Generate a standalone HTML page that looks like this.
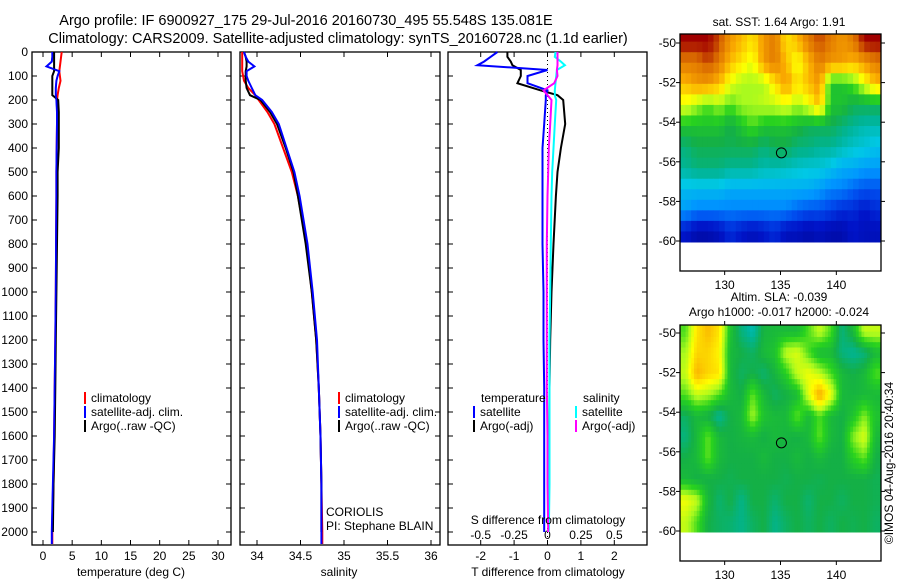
<!DOCTYPE html>
<html><head><meta charset="utf-8">
<style>
body{margin:0;background:#fff;}
svg{display:block;font-family:"Liberation Sans",sans-serif;}
text{fill:#000;}
</style></head>
<body>
<svg id="chart" width="900" height="580" viewBox="0 0 900 580" xmlns="http://www.w3.org/2000/svg">
<text x="306" y="25" font-size="14.5" text-anchor="middle">Argo profile: IF 6900927_175 29-Jul-2016 20160730_495 55.548S 135.081E</text>
<text x="338" y="43" font-size="14.5" text-anchor="middle">Climatology: CARS2009. Satellite-adjusted climatology: synTS_20160728.nc (1.1d earlier)</text>
<g id="g"></g>
</svg>
<script>
// ---- profile data ----
const depths = [0,20,40,60,80,100,120,150,180,200,250,300,400,500,600,800,1000,1200,1400,1600,1800,2000,2050];
const tempClim = [3.2,3.1,3.0,2.9,2.8,2.9,3.0,2.7,2.5,2.4,2.4,2.4,2.35,2.3,2.3,2.25,2.2,2.1,2.0,1.9,1.8,1.6,1.6];
const tempSat  = [1.6,1.6,1.5,0.6,2.8,2.5,2.3,2.2,2.2,2.3,2.4,2.4,2.35,2.3,2.3,2.25,2.2,2.1,2.0,1.9,1.7,1.5,1.5];
const tempArgo = [1.9,1.9,1.9,1.9,1.9,1.6,1.6,1.6,1.6,2.6,2.7,2.7,2.7,2.5,2.5,2.4,2.3,2.2,2.1,2.0,1.8,1.7,1.7];
const salClim = [33.83,33.83,33.83,33.83,33.83,33.84,33.85,33.9,33.98,34.02,34.12,34.2,34.3,34.4,34.47,34.57,34.63,34.68,34.71,34.73,34.74,34.75,34.75];
const salSat  = [33.85,33.87,33.9,33.97,33.88,33.88,33.9,33.94,33.98,34.06,34.17,34.25,34.34,34.43,34.49,34.58,34.64,34.69,34.71,34.73,34.74,34.74,34.74];
const salArgo = [33.85,33.87,33.88,33.88,33.87,33.87,33.87,33.88,33.92,34.04,34.15,34.23,34.33,34.42,34.47,34.56,34.63,34.68,34.71,34.73,34.74,34.74,34.74];
const diffDepths = [0,20,40,55,75,100,130,160,180,200,300,400,500,600,800,1000,1200,1400,1600,1800,2000];
const dTsat  = [-1.5,-1.7,-1.9,-2.1,0,-0.6,-0.6,0,-0.05,-0.05,-0.1,-0.15,-0.15,-0.15,-0.15,-0.12,-0.12,-0.1,-0.1,-0.1,-0.1];
const dTargo = [-1.2,-1.2,-1.1,-1.05,-0.8,-0.8,-0.9,-0.2,0.3,0.47,0.53,0.4,0.3,0.25,0.18,0.12,0.08,0.06,0.05,0.04,0.03];
const dSsat  = [0.06,0.055,0.1,0.13,0.07,0.065,0.06,0.055,0.055,0.065,0.055,0.045,0.035,0.03,0.025,0.02,0.015,0.015,0.015,0.015,0.01];
const dSargo = [0.075,0.075,0.075,0.075,0.07,0.075,0.05,-0.03,0,0.03,0.02,0.01,0.005,0,-0.005,-0.005,-0.005,-0.005,0,0,0.005];
const depthTicks = [0,100,200,300,400,500,600,700,800,900,1000,1100,1200,1300,1400,1500,1600,1700,1800,1900,2000];
const tempTicks = [0,5,10,15,20,25,30];
const salTicks = [34,34.5,35,35.5,36];
const tdTicks = [-2,-1,0,1,2];
const sdTickLabels = ["-0.5","-0.25","0","0.25","0.5"];
const sdTicks = [-0.5,-0.25,0,0.25,0.5];
// ---- map data (colour index 0..1), rows lat -50..-60, cols lon 126..144 ----
const sstGrid = [
[0.95,0.95,0.95,0.9,0.8,0.75,0.7,0.8,0.85,0.7,0.75,0.85,0.9,0.85,0.8,0.85,0.95,0.95],
[0.85,0.85,0.9,0.85,0.75,0.7,0.65,0.8,0.85,0.75,0.65,0.75,0.85,0.8,0.8,0.75,0.8,0.85],
[0.75,0.8,0.8,0.75,0.65,0.6,0.6,0.6,0.7,0.8,0.7,0.75,0.8,0.5,0.5,0.55,0.65,0.75],
[0.65,0.6,0.55,0.6,0.55,0.6,0.6,0.62,0.62,0.65,0.6,0.65,0.75,0.5,0.5,0.45,0.45,0.45],
[0.5,0.5,0.5,0.5,0.45,0.5,0.55,0.5,0.5,0.5,0.48,0.45,0.45,0.45,0.42,0.4,0.38,0.38],
[0.42,0.45,0.45,0.45,0.45,0.45,0.45,0.42,0.45,0.45,0.42,0.42,0.4,0.4,0.38,0.36,0.35,0.33],
[0.4,0.42,0.42,0.42,0.4,0.4,0.4,0.38,0.38,0.37,0.36,0.35,0.35,0.33,0.3,0.3,0.28,0.28],
[0.32,0.32,0.32,0.32,0.3,0.3,0.3,0.3,0.3,0.3,0.3,0.3,0.28,0.25,0.25,0.22,0.2,0.2],
[0.28,0.25,0.25,0.25,0.25,0.25,0.25,0.25,0.25,0.25,0.22,0.2,0.2,0.18,0.15,0.15,0.12,0.15],
[0.12,0.08,0.08,0.1,0.15,0.12,0.1,0.12,0.15,0.1,0.1,0.08,0.1,0.08,0.08,0.12,0.1,0.1]];
const slaGrid = [
[0.55,0.7,0.75,0.7,0.5,0.42,0.38,0.47,0.48,0.48,0.48,0.55,0.62,0.55,0.42,0.48,0.62,0.62],
[0.6,0.72,0.72,0.68,0.48,0.46,0.44,0.48,0.5,0.62,0.64,0.55,0.48,0.48,0.42,0.4,0.42,0.48],
[0.62,0.76,0.72,0.7,0.48,0.44,0.46,0.43,0.47,0.52,0.62,0.66,0.62,0.55,0.48,0.46,0.48,0.55],
[0.55,0.62,0.6,0.55,0.48,0.46,0.56,0.48,0.44,0.46,0.48,0.64,0.78,0.66,0.48,0.47,0.48,0.48],
[0.44,0.48,0.46,0.4,0.46,0.48,0.6,0.5,0.48,0.48,0.56,0.48,0.55,0.48,0.46,0.5,0.58,0.5],
[0.42,0.48,0.56,0.48,0.46,0.47,0.48,0.46,0.48,0.47,0.46,0.48,0.56,0.48,0.46,0.58,0.64,0.48],
[0.46,0.48,0.56,0.48,0.46,0.46,0.46,0.48,0.46,0.46,0.48,0.46,0.48,0.46,0.46,0.52,0.56,0.46],
[0.48,0.46,0.46,0.46,0.45,0.46,0.46,0.46,0.46,0.45,0.46,0.46,0.45,0.46,0.46,0.46,0.46,0.45],
[0.66,0.62,0.48,0.43,0.46,0.41,0.46,0.46,0.43,0.46,0.46,0.43,0.46,0.46,0.44,0.46,0.46,0.45],
[0.62,0.55,0.46,0.44,0.43,0.41,0.44,0.46,0.41,0.44,0.46,0.44,0.46,0.44,0.46,0.45,0.46,0.44]];
const latTicks = [-50,-52,-54,-56,-58,-60];
const lonTicks = [130,135,140];
const argoLon = 135.081, argoLat = -55.548;

const NS="http://www.w3.org/2000/svg";
const G=document.getElementById('g');
function mk(tag,attrs,parent){const e=document.createElementNS(NS,tag);for(const k in attrs)e.setAttribute(k,attrs[k]);(parent||G).appendChild(e);return e;}
function txt(s,x,y,anchor,size,parent){const e=mk('text',{x:x,y:y,'text-anchor':anchor||'start','font-size':size||12},parent);e.textContent=s;return e;}

const PT=52, PB=545;
const yD = d => 52 + d*0.24;
const xT = t => 43 + t*(218-43)/30;
const xS = s => 257 + (s-34)*87;
const xDT = v => 547.5 + v*33.4;
const xDS = v => 547.5 + v*133.6;

function panel(name,x0,x1,showDepthLabels){
  const g=mk('g',{});
  
  
  mk('rect',{x:x0,y:PT,width:x1-x0,height:PB-PT,fill:'none',stroke:'#000','stroke-width':1.3},g);
  depthTicks.forEach(d=>{
    const y=yD(d);
    mk('line',{x1:x0,x2:x0+5,y1:y,y2:y,stroke:'#000'},g);
    mk('line',{x1:x1-5,x2:x1,y1:y,y2:y,stroke:'#000'},g);
    if(showDepthLabels){const t=txt(String(d),28,y+4,'end',12,g);}
  });
  return g;
}
function xticks(g,ticks,fx,labels){
  ticks.forEach((v,i)=>{const x=fx(v);
    mk('line',{x1:x,x2:x,y1:PT,y2:PT+5,stroke:'#000'},g);
    mk('line',{x1:x,x2:x,y1:PB-5,y2:PB,stroke:'#000'},g);
    const t=txt(labels?labels[i]:String(v),x,560,'middle',12,g);
    
    
  });
}
function line(g,xs,ds,fx,color,name,w){
  const pts=xs.map((v,i)=>fx(v).toFixed(1)+','+yD(ds[i]).toFixed(1)).join(' ');
  const p=mk('polyline',{points:pts,fill:'none',stroke:color,'stroke-width':w||2,'stroke-linejoin':'miter'},g);
  
  
}
function legend(g,x,y,color,label,name){
  mk('rect',{x:x,y:y-10,width:2,height:12,fill:color},g);
  const t=txt(label,x+7,y,'start',12,g);
  
  
}

// Panel 1 temperature
const p1=panel('temperature-panel',32,231,true);
xticks(p1,tempTicks,xT);
line(p1,tempClim,depths,xT,'#f00','temp-climatology-line');
line(p1,tempSat,depths,xT,'#00f','temp-satellite-line');
line(p1,tempArgo.slice(0,22),depths.slice(0,22),xT,'#000','temp-argo-line');
line(p1,tempSat,depths,xT,'#00f','temp-satellite-line-top',1.5);
legend(p1,84,402,'#f00','climatology','legend-climatology');
legend(p1,84,416,'#00f','satellite-adj. clim.','legend-satellite');
legend(p1,84,430,'#000','Argo(..raw -QC)','legend-argo');
{const t=txt('temperature (deg C)',131,576,'middle',12,p1);}

// Panel 2 salinity
const p2=panel('salinity-panel',240,440,false);
xticks(p2,salTicks,xS);
line(p2,salClim,depths,xS,'#f00','sal-climatology-line');
line(p2,salArgo.slice(0,22),depths.slice(0,22),xS,'#000','sal-argo-line');
line(p2,salSat,depths,xS,'#00f','sal-satellite-line');
legend(p2,338,402,'#f00','climatology','legend-climatology');
legend(p2,338,416,'#00f','satellite-adj. clim.','legend-satellite');
legend(p2,338,430,'#000','Argo(..raw -QC)','legend-argo');
{const t=txt('CORIOLIS',326,516,'start',12,p2);}
{const t=txt('PI: Stephane BLAIN',326,530,'start',12,p2);}
{const t=txt('salinity',339,576,'middle',12,p2);}

// Panel 3 differences
const p3=panel('difference-panel',448,647,false);
xticks(p3,tdTicks,xDT);
sdTicks.forEach((v,i)=>{const t=txt(sdTickLabels[i],xDS(v),539,'middle',12,p3);});
mk('line',{x1:xDT(0),x2:xDT(0),y1:PT,y2:PB,stroke:'#000','stroke-dasharray':'1,3'},p3);
line(p3,dTargo,diffDepths,xDT,'#000','tdiff-argo-line');
line(p3,dTsat,diffDepths,xDT,'#00f','tdiff-satellite-line');
line(p3,dSsat,diffDepths,xDS,'#0ff','sdiff-satellite-line');
line(p3,dSargo,diffDepths,xDS,'#f0f','sdiff-argo-line');
{const t=txt('temperature',481,402,'start',12,p3);}
{const t=txt('salinity',583,402,'start',12,p3);}
legend(p3,473,416,'#00f','satellite','legend-t-satellite');
legend(p3,473,430,'#000','Argo(-adj)','legend-t-argo');
legend(p3,575,416,'#0ff','satellite','legend-s-satellite');
legend(p3,575,430,'#f0f','Argo(-adj)','legend-s-argo');
{const t=txt('S difference from climatology',548,524,'middle',12,p3);}
{const t=txt('T difference from climatology',548,576,'middle',12,p3);}

// ---- maps ----
const STOPS=[[0,[0,0,120]],[0.12,[0,20,200]],[0.2,[0,80,240]],[0.27,[0,150,255]],[0.34,[0,200,230]],[0.4,[0,180,150]],[0.46,[20,176,70]],[0.53,[40,210,30]],[0.6,[170,250,30]],[0.67,[255,255,0]],[0.77,[250,170,0]],[0.87,[220,110,0]],[0.95,[160,0,0]],[1,[140,0,0]]];
function cmap(v){
  v=Math.max(0,Math.min(1,v));
  for(let i=1;i<STOPS.length;i++){
    if(v<=STOPS[i][0]){const a=STOPS[i-1],b=STOPS[i];const f=(v-a[0])/(b[0]-a[0]);
      return 'rgb('+a[1].map((c,k)=>Math.round(c+(b[1][k]-c)*f)).join(',')+')';}
  }
  return 'rgb(140,0,0)';
}
function sample(grid,fr,fc){
  const nr=grid.length,nc=grid[0].length;
  fr=Math.max(0,Math.min(nr-1,fr));fc=Math.max(0,Math.min(nc-1,fc));
  const r0=Math.floor(fr),c0=Math.floor(fc),r1=Math.min(nr-1,r0+1),c1=Math.min(nc-1,c0+1);
  const a=fr-r0,b=fc-c0;
  return grid[r0][c0]*(1-a)*(1-b)+grid[r0][c1]*(1-a)*b+grid[r1][c0]*a*(1-b)+grid[r1][c1]*a*b;
}
function map(name,grid,x0,x1,top,bottom,lat50y,lat60y,titles,sub){
  const g=mk('g',{});
  
  
  const lonX = lon => x0 + (lon-126)*(x1-x0)/18;
  const latY = lat => lat50y + (-50-lat)*(lat60y-lat50y)/10;
  const nr=grid.length*sub, nc=grid[0].length*sub;
  const latTop=-49.4, latBot=-60.05;
  for(let r=0;r<nr;r++){
    const la0=latTop+(latBot-latTop)*r/nr, la1=latTop+(latBot-latTop)*(r+1)/nr;
    for(let c=0;c<nc;c++){
      const v = sub>1 ? sample(grid,(r+0.5)/sub-0.5,(c+0.5)/sub-0.5) : grid[r][c];
      const y0=Math.max(top,latY(la0));
      const cell=mk('rect',{x:lonX(126+c/sub).toFixed(2),y:y0.toFixed(2),width:(lonX(126+(c+1)/sub)-lonX(126+c/sub)+0.5).toFixed(2),height:(latY(la1)-y0+0.5).toFixed(2),fill:cmap(v)},g);
      
      
    }
  }
  mk('rect',{x:x0,y:top,width:x1-x0,height:bottom-top,fill:'none',stroke:'#000','stroke-width':1.3},g);
  latTicks.forEach(l=>{const y=latY(l);
    mk('line',{x1:x0-4,x2:x0,y1:y,y2:y,stroke:'#000'},g);
    mk('line',{x1:x1,x2:x1+4,y1:y,y2:y,stroke:'#000'},g);
    const t=txt(String(l),x0-4,y+4,'end',12,g);
  });
  lonTicks.forEach(l=>{const x=lonX(l);
    mk('line',{x1:x,x2:x,y1:top-4,y2:top,stroke:'#000'},g);
    mk('line',{x1:x,x2:x,y1:bottom,y2:bottom+4,stroke:'#000'},g);
    const t=txt(String(l),x,bottom+18,'middle',12,g);
  });
  const c=mk('circle',{cx:lonX(argoLon),cy:latY(argoLat),r:5,fill:'none',stroke:'#000','stroke-width':1},g);
  
  
  titles.forEach((s,i)=>{const t=txt(s[0],779,s[1],'middle',12,g);});
}
map('sst-map',sstGrid,680,881,34,271,43,241,[['sat. SST: 1.64 Argo: 1.91',26]],2);
map('sla-map',slaGrid,680,881,325,561,333,531,[['Altim. SLA: -0.039',301],['Argo h1000: -0.017 h2000: -0.024',316]],4);
{const t=txt('©IMOS 04-Aug-2016 20:40:34',0,0,'middle',12);t.setAttribute('transform','translate(893,463) rotate(-90)');}
</script>
</body></html>
